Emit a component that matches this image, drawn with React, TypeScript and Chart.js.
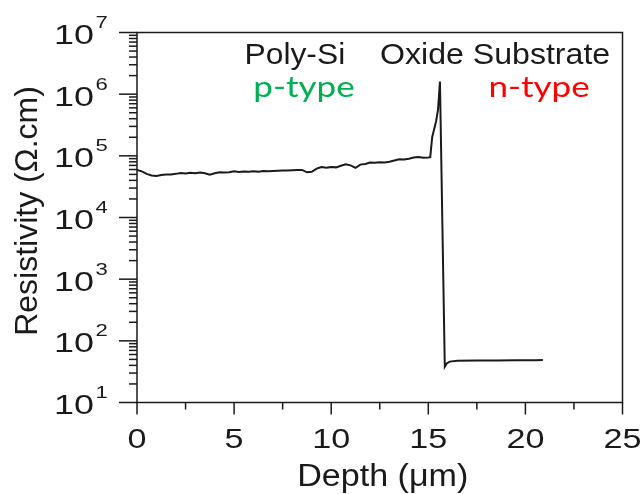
import React, { useEffect, useRef } from "react";
import { Chart, registerables } from "chart.js";

Chart.register(...registerables);

// ---- Data ----
const depthPlateau = [
  0, 0.25, 0.5, 0.75, 1.0, 1.25, 1.5, 1.75, 2.0, 2.25, 2.5, 2.75, 3.0, 3.25, 3.5, 3.75,
  4.0, 4.25, 4.5, 4.75, 5.0, 5.25, 5.5, 5.75, 6.0, 6.25, 6.5, 6.75, 7.0, 7.25, 7.5, 7.75,
  8.0, 8.25, 8.5, 8.75, 9.0, 9.25, 9.5, 9.75, 10.0, 10.25, 10.5, 10.75, 11.0, 11.25, 11.5,
  11.75, 12.0, 12.25, 12.5, 12.75, 13.0, 13.25, 13.5, 13.75, 14.0, 14.25, 14.5, 14.75, 15.0,
];
const resistivityPlateau = [
  59000, 56000, 51000, 48000, 47000, 49000, 50000, 50000, 51000, 52500, 51500, 53000, 52000,
  53500, 52000, 49500, 52000, 54000, 53500, 54000, 56000, 54500, 55500, 55000, 56000, 55000,
  56500, 56000, 57000, 57500, 58000, 58000, 58500, 59000, 59000, 54000, 55000, 62000, 66000,
  64000, 66000, 65000, 69000, 73000, 70000, 64000, 72000, 74000, 78000, 77000, 79000, 78000,
  80000, 84000, 88000, 87000, 90000, 94000, 96000, 93000, 94000,
];
const depthPeakAndSubstrate = [
  15.1, 15.2, 15.3, 15.4, 15.5, 15.6, 15.85, 15.95, 16.1, 16.5, 17.5, 18.5, 19.5, 20.5, 20.9,
];
const resistivityPeakAndSubstrate = [
  95000, 200000, 270000, 360000, 560000, 1600000, 38, 43, 46, 47.5, 48, 48, 48.5, 48.5, 49,
];

const depth = [...depthPlateau, ...depthPeakAndSubstrate];
const resistivity = [...resistivityPlateau, ...resistivityPeakAndSubstrate];

const xMajorTicks = [0, 5, 10, 15, 20, 25];
const xMinorTicks = [2.5, 7.5, 12.5, 17.5, 22.5];
const yDecadeExponents = [1, 2, 3, 4, 5, 6, 7];

const xTitle = "Depth (μm)";
const yTitle = "Resistivity (Ω.cm)";
const layerLabels = ["Poly-Si", "Oxide", "Substrate"];
const typeLabels = ["p-type", "n-type"];

const ARIAL = '"Liberation Sans", Arial, sans-serif';

function drawText(
  ctx: CanvasRenderingContext2D,
  text: string,
  x: number,
  y: number,
  font: string,
  color: string,
  align: CanvasTextAlign,
  sx = 1,
  rotate = 0
) {
  ctx.save();
  ctx.translate(x, y);
  if (rotate) ctx.rotate(rotate);
  ctx.scale(sx, 1);
  ctx.font = font;
  ctx.fillStyle = color;
  ctx.textAlign = align;
  ctx.textBaseline = "alphabetic";
  ctx.fillText(text, 0, 0);
  ctx.restore();
}

const decorPlugin = {
  id: "decor",
  afterDraw(chart: any) {
    const { ctx, chartArea: a, scales } = chart;
    const xs = scales.x;
    const ys = scales.y;
    const ink = "#1a1a1a";
    ctx.save();
    ctx.strokeStyle = ink;
    ctx.lineWidth = 1.5;
    ctx.strokeRect(a.left, a.top, a.right - a.left, a.bottom - a.top);

    const line = (x1: number, y1: number, x2: number, y2: number) => {
      ctx.beginPath();
      ctx.moveTo(x1, y1);
      ctx.lineTo(x2, y2);
      ctx.stroke();
    };

    // y ticks
    yDecadeExponents.forEach((e) => {
      const v = Math.pow(10, e);
      const py = ys.getPixelForValue(v);
      line(a.left - 18, py, a.left, py);
      if (e < 7) {
        for (let k = 2; k <= 9; k++) {
          const pm = ys.getPixelForValue(k * v);
          line(a.left - 8, pm, a.left, pm);
        }
      }
      // label 10^e
      drawText(ctx, "10", 94, py + 11.5, `27px ${ARIAL}`, ink, "right", 1.33);
      drawText(ctx, String(e), 95.5, py - 4.5, `17px ${ARIAL}`, ink, "left", 1.3);
    });

    // x ticks
    xMajorTicks.forEach((v) => {
      const px = xs.getPixelForValue(v);
      line(px, a.bottom, px, a.bottom + 12);
      drawText(ctx, String(v), px, 448, `28px ${ARIAL}`, ink, "center", 1.22);
    });
    xMinorTicks.forEach((v) => {
      const px = xs.getPixelForValue(v);
      line(px, a.bottom, px, a.bottom + 7);
    });

    // axis titles
    drawText(ctx, xTitle, (a.left + a.right) / 2 + 3, 486, `31px ${ARIAL}`, ink, "center", 1.1);
    drawText(ctx, yTitle, 37, 211, `32px ${ARIAL}`, ink, "center", 1, -Math.PI / 2);

    // annotations
    drawText(ctx, layerLabels[0], 244.5, 63.5, `30px ${ARIAL}`, ink, "left", 1.06);
    drawText(ctx, layerLabels[1] + " " + layerLabels[2], 380, 63.5, `30px ${ARIAL}`, ink, "left", 1.07);
    drawText(ctx, typeLabels[0], 304, 97, `28px Lato, "Noto Sans", sans-serif`, "#00b050", "center", 1.25);
    drawText(ctx, typeLabels[1], 539, 97, `28px Lato, "Noto Sans", sans-serif`, "#ff0000", "center", 1.25);
    ctx.restore();
  },
};

export default function App() {
  const canvasRef = useRef<HTMLCanvasElement | null>(null);

  useEffect(() => {
    const canvas = canvasRef.current;
    if (!canvas) return;
    const points = depth.map((d, i) => ({ x: d, y: resistivity[i] }));
    const chart = new Chart(canvas, {
      type: "line",
      data: {
        datasets: [
          {
            data: points,
            borderColor: "#1a1a1a",
            borderWidth: 2,
            pointRadius: 0,
            tension: 0,
            fill: false,
          },
        ],
      },
      options: {
        animation: false,
        responsive: false,
        maintainAspectRatio: false,
        devicePixelRatio: 1,
        layout: { padding: { left: 137, right: 21.5, top: 32.5, bottom: 91.5 } },
        plugins: { legend: { display: false }, tooltip: { enabled: false }, title: { display: false } },
        scales: {
          x: { type: "linear", min: 0, max: 25, display: false },
          y: { type: "logarithmic", min: 10, max: 1e7, display: false },
        },
      },
      plugins: [decorPlugin],
    });
    return () => chart.destroy();
  }, []);

  return (
    <div style={{ position: "fixed", left: 0, top: 0, width: 644, height: 494, background: "#fff" }}>
      <canvas ref={canvasRef} width={644} height={494} style={{ width: 644, height: 494 }} />
    </div>
  );
}
